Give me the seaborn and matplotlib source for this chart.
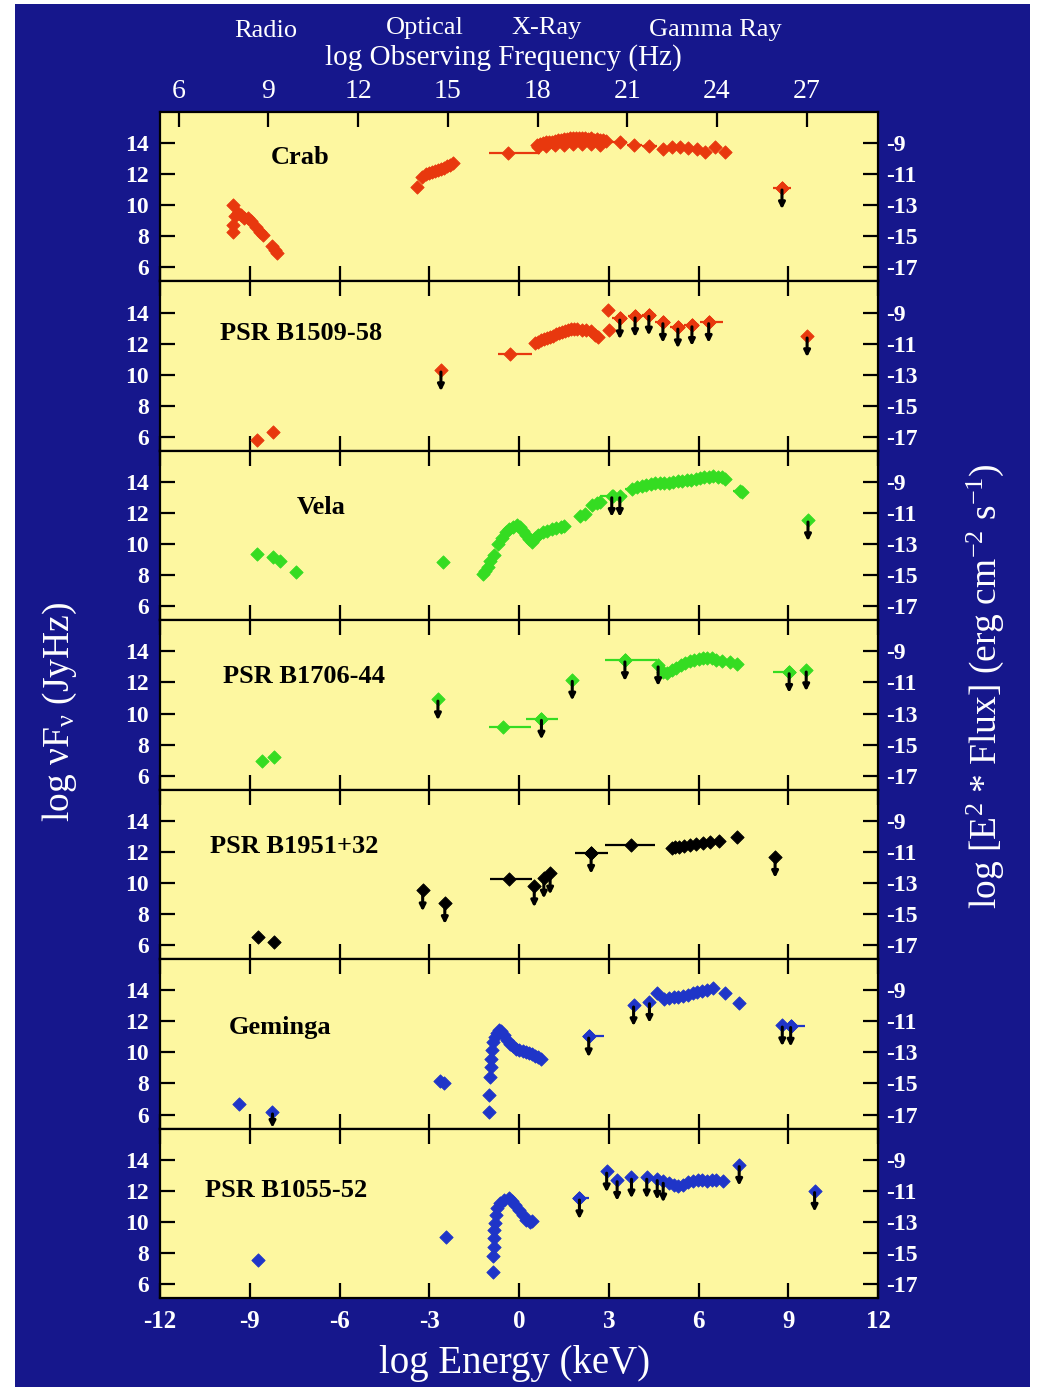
import numpy as np
import pandas as pd
import matplotlib
matplotlib.use("Agg")
import matplotlib.pyplot as plt
from matplotlib.patches import Rectangle
import seaborn as sns

# ---------------------------------------------------------------- data
# log Energy (keV) / log nuF_nu (Jy Hz) for seven pulsars.
# *_E, *_F       : measured points
# *_bar_*        : points drawn with a horizontal energy-bin bar (lo, hi)
# *_ul_E, *_ul_F : upper limits (marker plus downward arrow)

names = ["Crab", "PSR B1509-58", "Vela", "PSR B1706-44",
         "PSR B1951+32", "Geminga", "PSR B1055-52"]
colors = ["#e8380e", "#e8380e", "#35dc22", "#35dc22",
          "#000000", "#1f35c8", "#1f35c8"]
name_E = [-7.3, -7.3, -6.6, -7.2, -7.5, -8.0, -7.8]
name_F = [13.1, 12.67, 12.38, 12.4, 12.37, 11.62, 12.04]

crab_E = [-9.55, -9.5, -9.4, -9.3, -9.2, -9.55, -9.55, -9.05, -8.95, -8.8, -8.65, -8.55, -8.25, -8.15, -8.1,
          -3.4, -3.25, -3.1, -3.0, -2.9, -2.8, -2.7, -2.6, -2.5, -2.4, -2.3, -2.2,
          0.6, 0.7, 0.8, 0.9, 1.0, 1.1, 1.2, 1.3, 1.4, 1.5, 1.6, 1.7, 1.8, 1.9, 2.0, 2.1, 2.2, 2.3,
          2.4, 2.5, 2.6, 2.7, 2.8, 2.9, 0.65, 0.9, 1.2, 1.5, 1.8, 2.1, 2.4, 2.7,
          4.81, 5.11, 5.38, 5.65, 5.95, 6.22, 6.55, 6.88]
crab_F = [10.0, 9.3, 9.5, 9.4, 9.2, 8.7, 8.3, 9.2, 9.0, 8.6, 8.3, 8.1, 7.4, 7.1, 6.9,
          11.2, 11.8, 12.0, 12.05, 12.15, 12.2, 12.3, 12.35, 12.4, 12.5, 12.6, 12.7,
          13.85, 13.95, 14.0, 14.05, 14.1, 14.1, 14.15, 14.2, 14.2, 14.25, 14.25, 14.3, 14.3, 14.35, 14.3, 14.3, 14.3, 14.25,
          14.3, 14.2, 14.25, 14.2, 14.2, 14.15, 13.75, 13.8, 13.85, 13.9, 13.95, 13.95, 13.95, 13.85,
          13.6, 13.75, 13.75, 13.7, 13.6, 13.4, 13.75, 13.4]
crab_bar_E = [-0.37, 3.37, 3.85, 4.35, 8.79]
crab_bar_F = [13.35, 14.1, 13.9, 13.8, 11.1]
crab_bar_lo = [-1.0, 3.0, 3.6, 4.1, 8.49]
crab_bar_hi = [0.7, 3.6, 4.1, 4.6, 9.09]
crab_ul_E = [8.79]
crab_ul_F = [11.1]

b1509_E = [-8.76, -8.22,
           0.55, 0.65, 0.75, 0.85, 0.95, 1.05, 1.15, 1.25, 1.35, 1.45, 1.55, 1.65, 1.75, 1.85, 1.95,
           2.1, 2.25, 2.4, 2.55, 2.65, 2.97, 3.0]
b1509_F = [5.83, 6.29,
           12.05, 12.12, 12.2, 12.28, 12.36, 12.43, 12.52, 12.6, 12.68, 12.75, 12.82, 12.9, 12.95, 12.97, 12.92,
           12.86, 12.86, 12.8, 12.55, 12.43, 14.15, 12.9]
b1509_bar_E = [-0.30, 3.37, 3.88, 4.34, 4.81, 5.31, 5.78, 6.34]
b1509_bar_F = [11.32, 13.63, 13.77, 13.87, 13.4, 13.05, 13.2, 13.4]
b1509_bar_lo = [-0.7, 3.12, 3.63, 4.1, 4.56, 5.06, 5.53, 6.05]
b1509_bar_hi = [0.43, 3.62, 4.13, 4.58, 5.06, 5.56, 6.03, 6.82]
b1509_ul_E = [-2.61, 3.37, 3.88, 4.34, 4.81, 5.31, 5.78, 6.34, 9.63]
b1509_ul_F = [10.29, 13.63, 13.77, 13.87, 13.4, 13.05, 13.2, 13.4, 12.48]

vela_E = [-8.76, -8.22, -7.99, -7.45, -2.55,
          -1.2, -1.13, -1.05, -0.97, -0.85, -0.7, -0.58, -0.45, -0.33, -0.2, -0.07, 0.05, 0.15, 0.25,
          0.35, 0.45, 0.55, 0.65, 0.8, 0.95, 1.1, 1.25, 1.4, 1.5, 2.05, 2.2, 2.45, 2.6, 2.7,
          3.95, 4.1, 4.25, 4.4, 4.55, 4.7, 4.85, 5.0, 5.15, 5.3, 5.45, 5.6, 5.75, 5.9, 6.05,
          6.2, 6.35, 6.5, 6.65, 6.8, 6.9, 7.45]
vela_F = [9.35, 9.2, 8.9, 8.2, 8.83,
          8.1, 8.3, 8.55, 8.9, 9.3, 10.0, 10.4, 10.75, 10.95, 11.1, 11.2, 11.1, 10.85, 10.6,
          10.3, 10.15, 10.4, 10.6, 10.75, 10.85, 10.95, 11.05, 11.1, 11.15, 11.8, 11.95, 12.5, 12.65, 12.7,
          13.65, 13.75, 13.8, 13.85, 13.9, 13.9, 13.95, 13.95, 14.0, 14.05, 14.05, 14.1, 14.15, 14.2, 14.25,
          14.3, 14.35, 14.4, 14.35, 14.3, 14.2, 13.35]
vela_bar_E = [3.14, 3.78, 7.38]
vela_bar_F = [13.1, 13.56, 13.4]
vela_bar_lo = [2.7, 3.55, 7.15]
vela_bar_hi = [3.6, 4.0, 7.6]
vela_ul_E = [3.1, 3.37, 9.66]
vela_ul_F = [13.1, 13.1, 11.54]

b1706_E = [-8.58, -8.19,
           4.8, 4.95, 5.1, 5.25, 5.4, 5.55, 5.7, 5.85, 6.0, 6.15, 6.3, 6.45, 6.6, 6.8, 7.05, 7.3]
b1706_F = [6.94, 7.2,
           12.7, 12.6, 12.8, 12.95, 13.1, 13.25, 13.35, 13.45, 13.5, 13.55, 13.6, 13.55, 13.45, 13.35, 13.3, 13.2]
b1706_bar_E = [-0.54, 0.75, 3.54, 9.03]
b1706_bar_F = [9.14, 9.68, 13.44, 12.68]
b1706_bar_lo = [-1.01, 0.22, 2.88, 8.49]
b1706_bar_hi = [0.41, 1.3, 4.61, 9.2]
b1706_ul_E = [-2.71, 0.75, 1.78, 3.54, 4.65, 9.03, 9.6]
b1706_ul_F = [10.92, 9.68, 12.19, 13.44, 13.12, 12.68, 12.79]

b1951_E = [-8.74, -8.2,
           5.1, 5.2, 5.35, 5.5, 5.7, 5.9, 6.15, 6.4, 6.7, 7.3]
b1951_F = [6.52, 6.19,
           12.28, 12.3, 12.34, 12.38, 12.43, 12.48, 12.55, 12.62, 12.7, 12.97]
b1951_bar_E = [-0.35, 2.41, 3.76]
b1951_bar_F = [10.28, 11.94, 12.43]
b1951_bar_lo = [-0.98, 1.87, 2.88]
b1951_bar_hi = [0.42, 2.96, 4.54]
b1951_ul_E = [-3.22, -2.48, 0.51, 0.83, 1.04, 2.41, 8.56]
b1951_ul_F = [9.53, 8.71, 9.79, 10.35, 10.61, 11.94, 11.68]

geminga_E = [-9.37, -2.65, -2.5,
             -1.01, -0.99, -0.97, -0.95, -0.93, -0.9, -0.86, -0.81, -0.75, -0.68, -0.6, -0.5, -0.4,
             -0.3, -0.2, -0.1, 0.0, 0.12, 0.25, 0.35, 0.44, 0.55, 0.65, 0.75,
             4.62, 4.86, 5.02, 5.17, 5.33, 5.49, 5.65, 5.8, 5.96, 6.12, 6.3, 6.5, 6.9, 7.34]
geminga_F = [6.7, 8.15, 8.05,
             6.16, 7.23, 8.41, 9.06, 9.6, 10.14, 10.67, 11.0, 11.25, 11.43, 11.35, 11.1, 10.8,
             10.55, 10.38, 10.25, 10.15, 10.08, 10.0, 9.94, 9.88, 9.78, 9.68, 9.6,
             13.79, 13.41, 13.48, 13.54, 13.58, 13.62, 13.7, 13.79, 13.86, 13.94, 14.02, 14.12, 13.79, 13.19]
geminga_bar_E = [2.33, 9.08]
geminga_bar_F = [11.04, 11.72]
geminga_bar_lo = [2.33, 8.72]
geminga_bar_hi = [2.84, 9.55]
geminga_ul_E = [-8.24, 2.33, 3.83, 4.36, 8.8, 9.08]
geminga_ul_F = [6.16, 11.04, 13.04, 13.25, 11.75, 11.72]

b1055_E = [-8.74, -2.45,
           -0.87, -0.86, -0.85, -0.84, -0.82, -0.8, -0.77, -0.72, -0.62, -0.5, -0.35, -0.22, -0.12,
           0.0, 0.12, 0.24, 0.36, 0.44,
           5.01, 5.17, 5.33, 5.49, 5.64, 5.8, 5.97, 6.13, 6.3, 6.45, 6.59, 6.83]
b1055_F = [7.54, 9.05,
           6.79, 7.82, 8.4, 8.99, 9.47, 9.9, 10.45, 10.88, 11.2, 11.41, 11.52, 11.35, 11.09,
           10.75, 10.45, 10.15, 10.02, 10.05,
           12.49, 12.38, 12.28, 12.4, 12.55, 12.62, 12.7, 12.66, 12.64, 12.68, 12.7, 12.64]
b1055_bar_E = [2.02]
b1055_bar_F = [11.52]
b1055_bar_lo = [2.02]
b1055_bar_hi = [2.35]
b1055_ul_E = [2.02, 2.93, 3.28, 3.76, 4.27, 4.62, 4.82, 7.36, 9.88]
b1055_ul_F = [11.52, 13.25, 12.7, 12.86, 12.86, 12.77, 12.6, 13.67, 12.0]

energy_ticks = [-12, -9, -6, -3, 0, 3, 6, 9, 12]
freq_ticks = [6, 9, 12, 15, 18, 21, 24, 27]
flux_ticks = [6, 8, 10, 12, 14]
ergs_ticks = [-17, -15, -13, -11, -9]
bands = ["Radio", "Optical", "X-Ray", "Gamma Ray"]
band_x = [266, 425, 547, 715]
band_y = [31, 28, 28, 30]

LOG_HZ_PER_KEV = 17.38   # log10(2.418e17 Hz / keV)
JY_OFFSET = 23.0         # 1 Jy Hz = 1e-23 erg cm^-2 s^-1

panels = [
    (crab_E, crab_F, crab_bar_E, crab_bar_F, crab_bar_lo, crab_bar_hi, crab_ul_E, crab_ul_F),
    (b1509_E, b1509_F, b1509_bar_E, b1509_bar_F, b1509_bar_lo, b1509_bar_hi, b1509_ul_E, b1509_ul_F),
    (vela_E, vela_F, vela_bar_E, vela_bar_F, vela_bar_lo, vela_bar_hi, vela_ul_E, vela_ul_F),
    (b1706_E, b1706_F, b1706_bar_E, b1706_bar_F, b1706_bar_lo, b1706_bar_hi, b1706_ul_E, b1706_ul_F),
    (b1951_E, b1951_F, b1951_bar_E, b1951_bar_F, b1951_bar_lo, b1951_bar_hi, b1951_ul_E, b1951_ul_F),
    (geminga_E, geminga_F, geminga_bar_E, geminga_bar_F, geminga_bar_lo, geminga_bar_hi, geminga_ul_E, geminga_ul_F),
    (b1055_E, b1055_F, b1055_bar_E, b1055_bar_F, b1055_bar_lo, b1055_bar_hi, b1055_ul_E, b1055_ul_F),
]

# ---------------------------------------------------------------- style
sns.set_style("ticks")
plt.rcParams["font.family"] = ["Liberation Serif", "DejaVu Serif"]
plt.rcParams["mathtext.fontset"] = "custom"
plt.rcParams["mathtext.rm"] = "Liberation Serif"
plt.rcParams["mathtext.it"] = "Liberation Serif"
plt.rcParams["axes.unicode_minus"] = False

NAVY = "#16178c"
PANEL = "#fdf7a0"
W, H = 1038, 1387

fig = plt.figure(figsize=(W / 100, H / 100), dpi=100, facecolor="white")
fig.patches.append(Rectangle((15 / W, 0), (1030 - 15) / W, (H - 4) / H,
                             transform=fig.transFigure, facecolor=NAVY,
                             edgecolor="none", zorder=-10))
axes = fig.subplots(7, 1, sharex=True, gridspec_kw=dict(hspace=0))
fig.subplots_adjust(left=160 / W, right=878 / W, top=1 - 112 / H, bottom=1 - 1298 / H)

ARROW = 1.35
tick_kw = dict(direction="in", length=11, width=1.6, color="black", labelcolor="white")

for i, ax in enumerate(axes):
    E, F, bE, bF, blo, bhi, uE, uF = panels[i]
    c = colors[i]
    ax.set_facecolor(PANEL)
    for s in ax.spines.values():
        s.set_linewidth(1.6)
        s.set_color("black")

    # energy-bin bars
    bE_a, bF_a = np.array(bE), np.array(bF)
    xerr = [bE_a - np.array(blo), np.array(bhi) - bE_a]
    ax.errorbar(bE_a, bF_a, xerr=xerr, fmt="none", ecolor=c, elinewidth=1.6,
                capsize=0, zorder=2)

    # upper-limit arrows
    for x, y in zip(uE, uF):
        tip = max(y - ARROW, 5.15)
        ax.annotate("", xy=(x, tip), xytext=(x, y - 0.12),
                    arrowprops=dict(arrowstyle="-|>", color="black", lw=2.2,
                                    mutation_scale=9, shrinkA=0, shrinkB=0),
                    zorder=4)

    pts = pd.DataFrame({"E": list(E) + list(bE) + list(uE),
                        "F": list(F) + list(bF) + list(uF)})
    sns.scatterplot(data=pts, x="E", y="F", ax=ax, marker="D", s=46, color=c,
                    edgecolor=c, linewidth=0.6, zorder=3, legend=False)

    ax.text(name_E[i], name_F[i], names[i], ha="center", va="center",
            fontsize=19, fontweight="bold", color="black")

    ax.set_xlim(-12, 12)
    ax.set_ylim(5.1, 16.0)
    ax.set_yticks(flux_ticks)
    ax.set_xticks(energy_ticks)
    ax.set_xlabel("")
    ax.set_ylabel("")
    ax.tick_params(axis="both", top=(i > 0), right=False, pad=8, labelsize=17, **tick_kw)
    for lab in ax.get_yticklabels():
        lab.set_fontweight("bold")

    sec = ax.secondary_yaxis("right", functions=(lambda y: y - JY_OFFSET, lambda y: y + JY_OFFSET))
    sec.set_yticks(ergs_ticks)
    sec.spines["right"].set_visible(False)
    sec.tick_params(axis="y", pad=6, labelsize=17, **tick_kw)
    for lab in sec.get_yticklabels():
        lab.set_fontweight("bold")

for lab in axes[-1].get_xticklabels():
    lab.set_fontweight("bold")
axes[-1].tick_params(axis="x", pad=9, labelsize=18)

top = axes[0].secondary_xaxis("top", functions=(lambda e: e + LOG_HZ_PER_KEV,
                                                lambda f: f - LOG_HZ_PER_KEV))
top.set_xticks(freq_ticks)
top.spines["top"].set_visible(False)
top.tick_params(axis="x", pad=6, labelsize=20, **tick_kw)

for b, xb, yb in zip(bands, band_x, band_y):
    fig.text(xb / W, 1 - yb / H, b, ha="center", va="center", color="white",
             fontsize=19)
fig.text(503 / W, 1 - 58 / H, "log Observing Frequency (Hz)", ha="center", va="center",
         color="white", fontsize=21)
fig.text(515 / W, 1 - 1364 / H, "log Energy (keV)", ha="center", va="center",
         color="white", fontsize=28)
fig.text(60 / W, 1 - 712 / H, "log νF$_{ν}$ (JyHz)", ha="center", va="center",
         rotation=90, color="white", fontsize=27)
fig.text(985 / W, 1 - 686 / H, r"log [E$^{2}$ * Flux] (erg cm$^{-2}$ s$^{-1}$)",
         ha="center", va="center", rotation=90, color="white", fontsize=27)

fig.savefig("out.png", dpi=100, facecolor=fig.get_facecolor())
